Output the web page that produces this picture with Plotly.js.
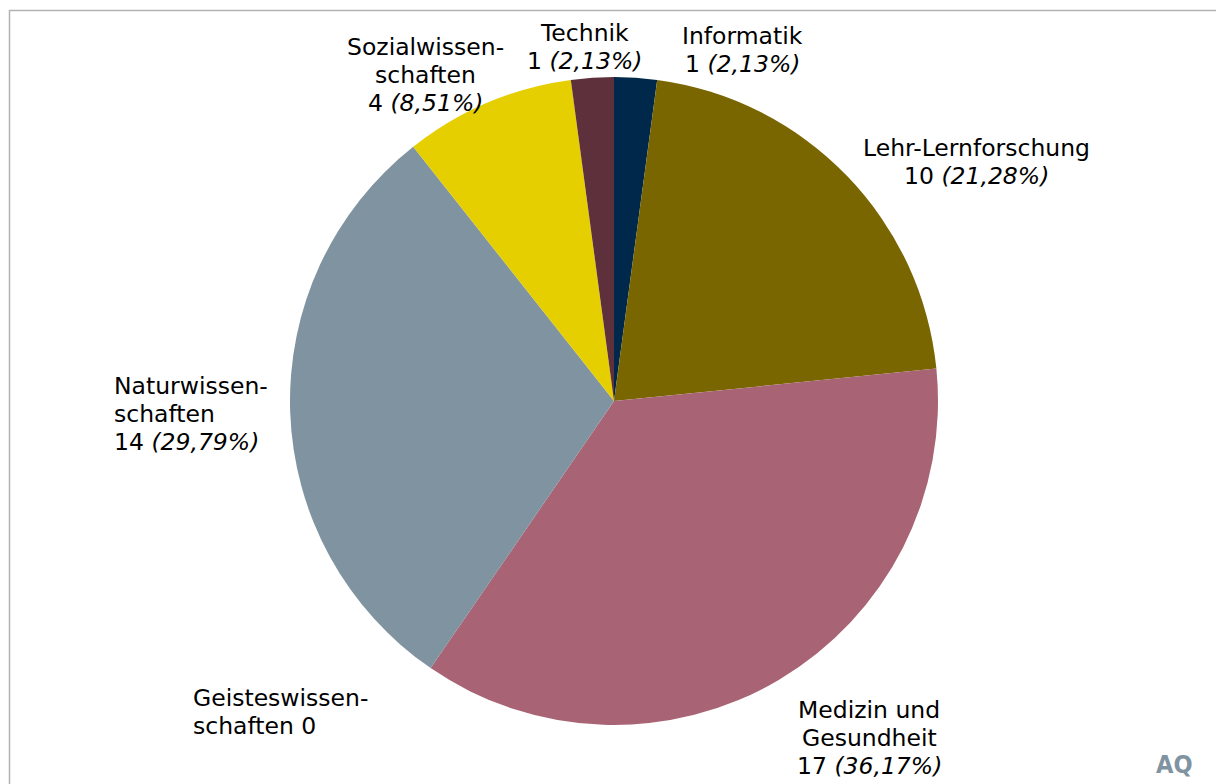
<!DOCTYPE html>
<html>
<head>
<meta charset="utf-8">
<script src="https://cdn.plot.ly/plotly-3.0.1.min.js"></script>
<style>html,body{margin:0;padding:0;background:#fff;}#chart{width:1216px;height:784px;}</style>
</head>
<body>
<div id="chart"></div>
<script>
const categories = ["Informatik", "Lehr-Lernforschung", "Medizin und Gesundheit", "Geisteswissenschaften", "Naturwissenschaften", "Sozialwissenschaften", "Technik"];
const labelNames = ["Informatik", "Lehr-Lernforschung", "Medizin und<br>Gesundheit", "Geisteswissen-<br>schaften", "Naturwissen-<br>schaften", "Sozialwissen-<br>schaften", "Technik"];
const values = [1, 10, 17, 0, 14, 4, 1];
const colors = ["#00284a", "#7a6600", "#a86474", "#c8c8c8", "#7f93a0", "#e6cf00", "#5e303c"];

const total = values.reduce((a, b) => a + b, 0);
function pct(v) { return (v / total * 100).toFixed(2).replace(".", ",") + "%"; }
function labelText(i) {
  if (values[i] === 0) return labelNames[i] + " " + values[i];
  return labelNames[i] + "<br>" + values[i] + " <i>(" + pct(values[i]) + ")</i>";
}

const W = 1216, H = 784;
const lineGap = 28;
// label placements in pixels (centre x/y) and alignment
const labelPos = [
  {x: 742, y: 50, xanchor: "center"},
  {x: 976, y: 162, xanchor: "center"},
  {x: 869, y: 738, xanchor: "center"},
  {x: 191, y: 712, xanchor: "left"},
  {x: 112, y: 414, xanchor: "left"},
  {x: 425, y: 75, xanchor: "center"},
  {x: 584, y: 47, xanchor: "center"}
];

const labelFont = {family: "DejaVu Sans, Verdana, sans-serif", size: 23.5, color: "#000"};
const annotations = [];
categories.forEach((c, i) => {
  const lines = labelText(i).split("<br>");
  const n = lines.length;
  lines.forEach((ln, k) => {
    const py = labelPos[i].y + (k - (n - 1) / 2) * lineGap;
    annotations.push({
      xref: "paper", yref: "paper",
      x: labelPos[i].x / W, y: 1 - py / H,
      xanchor: labelPos[i].xanchor, yanchor: "middle",
      text: ln, showarrow: false, font: labelFont
    });
  });
});
annotations.push({
  xref: "paper", yref: "paper", x: 1174 / W, y: 1 - 764 / H,
  xanchor: "center", yanchor: "middle", showarrow: false,
  text: "<b>AQ</b>",
  font: {family: "DejaVu Sans Condensed, DejaVu Sans, sans-serif", size: 25, color: "#7f93a0"}
});

const cx = 614, cy = 401, r = 324;
const trace = {
  type: "pie",
  labels: categories,
  values: values,
  sort: false,
  direction: "clockwise",
  rotation: 0,
  textinfo: "none",
  hoverinfo: "label+value+percent",
  marker: {colors: colors, line: {width: 0}},
  domain: {x: [(cx - r) / W, (cx + r) / W], y: [1 - (cy + r) / H, 1 - (cy - r) / H]},
  showlegend: false
};

const layout = {
  width: W, height: H,
  margin: {l: 0, r: 0, t: 0, b: 0},
  paper_bgcolor: "#fff",
  annotations: annotations,
  shapes: [{
    type: "rect", xref: "paper", yref: "paper",
    x0: 9.5 / W, x1: 1.02, y0: -0.02, y1: 1 - 10.5 / H,
    line: {color: "#b3b3b3", width: 1.5}
  }]
};

Plotly.newPlot("chart", [trace], layout, {displayModeBar: false, staticPlot: true});
</script>
</body>
</html>
